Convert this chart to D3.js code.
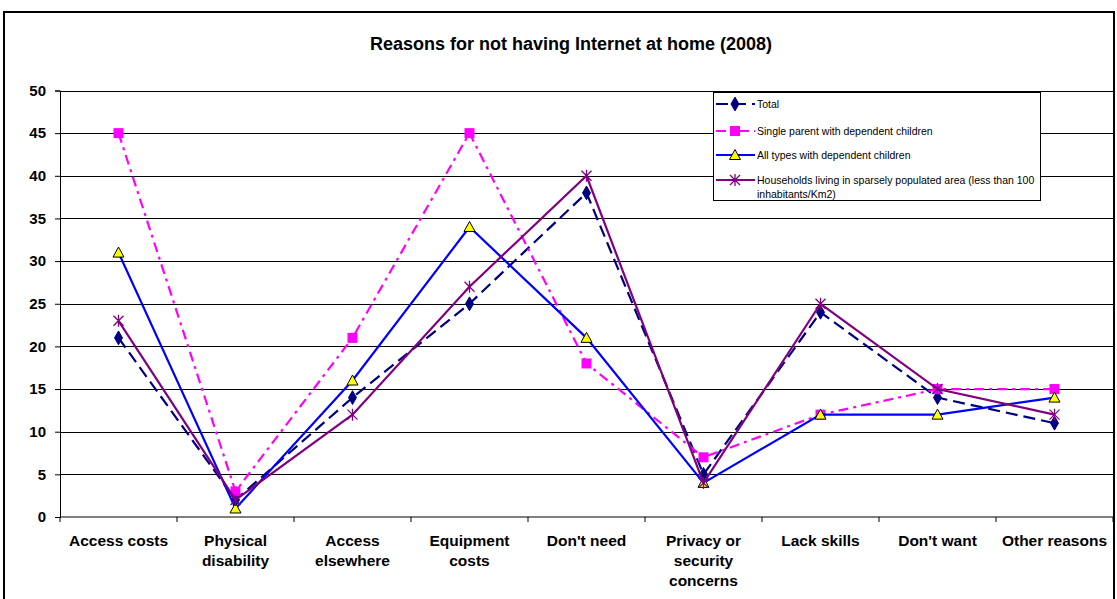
<!DOCTYPE html>
<html><head><meta charset="utf-8">
<script src="https://cdn.jsdelivr.net/npm/d3@7"></script>
<style>body{margin:0;background:#fff}svg{display:block;font-family:"Liberation Sans",Arial,sans-serif}</style>
</head><body><svg id="c" width="1117" height="599"></svg>
<script>
const categories = [["Access costs"],["Physical","disability"],["Access","elsewhere"],["Equipment","costs"],["Don't need"],["Privacy or","security","concerns"],["Lack skills"],["Don't want"],["Other reasons"]];
const total = [21, 2, 14, 25, 38, 5, 24, 14, 11];
const singleParent = [45, 3, 21, 45, 18, 7, 12, 15, 15];
const allTypes = [31, 1, 16, 34, 21, 4, 12, 12, 14];
const sparse = [23, 2, 12, 27, 40, 4, 25, 15, 12];
const yTicks = [0,5,10,15,20,25,30,35,40,45,50];
const seriesNames = ["Total","Single parent with dependent children","All types with dependent children","Households living in sparsely populated area (less than 100|inhabitants/Km2)"];

const svg = d3.select("#c");
const L=60, R=1113, T=90.5, B=517;
const x = d3.scaleBand().domain(d3.range(categories.length)).range([L,R]);
const y = d3.scaleLinear().domain([0,50]).range([B,T]);

// outer border
svg.append("rect").attr("x",4).attr("y",12).attr("width",1110).attr("height",600).attr("fill","none").attr("stroke","#000").attr("stroke-width",2);

svg.append("text").attr("x",571).attr("y",50).attr("text-anchor","middle").attr("font-size",18).attr("font-weight","bold").text("Reasons for not having Internet at home (2008)");

// gridlines
svg.append("g").selectAll("line").data(yTicks.filter(d=>d>0)).join("line")
  .attr("x1",L).attr("x2",R).attr("y1",d=>Math.round(y(d))+0.5).attr("y2",d=>Math.round(y(d))+0.5)
  .attr("stroke","#000").attr("stroke-width",1);

// y axis
const ya = svg.append("g").attr("transform",`translate(${L},0)`).call(d3.axisLeft(y).tickValues(yTicks).tickSize(5).tickPadding(9));
ya.select(".domain").attr("stroke","#000");
ya.selectAll("text").attr("font-size",15).attr("font-weight","bold").attr("font-family","Liberation Sans, Arial, sans-serif").attr("fill","#000");

// x axis
const xa = svg.append("g").attr("transform",`translate(0,${B})`);
xa.append("line").attr("x1",L).attr("x2",R).attr("stroke","#000");
xa.selectAll(".tk").data(d3.range(categories.length+1)).join("line")
  .attr("x1",i=>i<categories.length?x(i):R).attr("x2",i=>i<categories.length?x(i):R).attr("y1",0).attr("y2",5).attr("stroke","#000");
const xl = xa.selectAll(".lbl").data(categories).join("text")
  .attr("text-anchor","middle").attr("font-size",15.5).attr("font-weight","bold")
  .attr("x",(d,i)=>x(i)+x.bandwidth()/2).attr("y",29);
xl.selectAll("tspan").data(d=>d).join("tspan").attr("x",function(){return this.parentNode.getAttribute("x");}).attr("dy",(d,i)=>i?20:0).text(d=>d);

const cx = i=>x(i)+x.bandwidth()/2;
const line = d3.line().x((d,i)=>cx(i)).y(d=>y(d));

const styles = [
  {data: total, color:"#000080", dash:"12,6", marker:"diamond"},
  {data: singleParent, color:"#FF00FF", dash:"10,5,3,5", marker:"square"},
  {data: allTypes, color:"#0000FF", dash:null, marker:"triangle"},
  {data: sparse, color:"#800080", dash:null, marker:"star"}
];

function drawMarker(g, type, color, px, py){
  if(type==="diamond") g.append("path").attr("d",d3.symbol(d3.symbolDiamond,55)()).attr("transform",`translate(${px},${py})`).attr("fill",color).attr("stroke",color);
  else if(type==="square") g.append("rect").attr("x",px-5).attr("y",py-5).attr("width",10).attr("height",10).attr("fill",color);
  else if(type==="triangle") g.append("path").attr("d",`M${px},${py-5.5}L${px+5.5},${py+4.5}L${px-5.5},${py+4.5}Z`).attr("fill","#FFFF00").attr("stroke","#000").attr("stroke-width",1);
  else if(type==="star"){
    const s=5;
    g.append("path").attr("d",`M${px-s},${py-s}L${px+s},${py+s}M${px-s},${py+s}L${px+s},${py-s}M${px},${py-s-1}L${px},${py+s+1}`).attr("stroke",color).attr("stroke-width",1.3).attr("fill","none");
  }
}

styles.forEach(s=>{
  const g = svg.append("g");
  g.append("path").attr("d",line(s.data)).attr("fill","none").attr("stroke",s.color).attr("stroke-width",2.2).attr("stroke-dasharray",s.dash);
  s.data.forEach((v,i)=>drawMarker(g,s.marker,s.color,cx(i),y(v)));
});

// legend
const lg = svg.append("g");
lg.append("rect").attr("x",713.5).attr("y",92.5).attr("width",327).attr("height",108).attr("fill","#fff").attr("stroke","#000").attr("stroke-width",1);
const ly = [104,131,155,180];
styles.forEach((s,i)=>{
  lg.append("line").attr("x1",716).attr("x2",755).attr("y1",ly[i]).attr("y2",ly[i]).attr("stroke",s.color).attr("stroke-width",2.2).attr("stroke-dasharray",s.dash);
  drawMarker(lg,s.marker,s.color,735,ly[i]);
  const parts = seriesNames[i].split("|");
  parts.forEach((p,j)=>lg.append("text").attr("x",757).attr("y",ly[i]+3.5+j*14).attr("font-size",10.5).text(p));
});
</script></body></html>
